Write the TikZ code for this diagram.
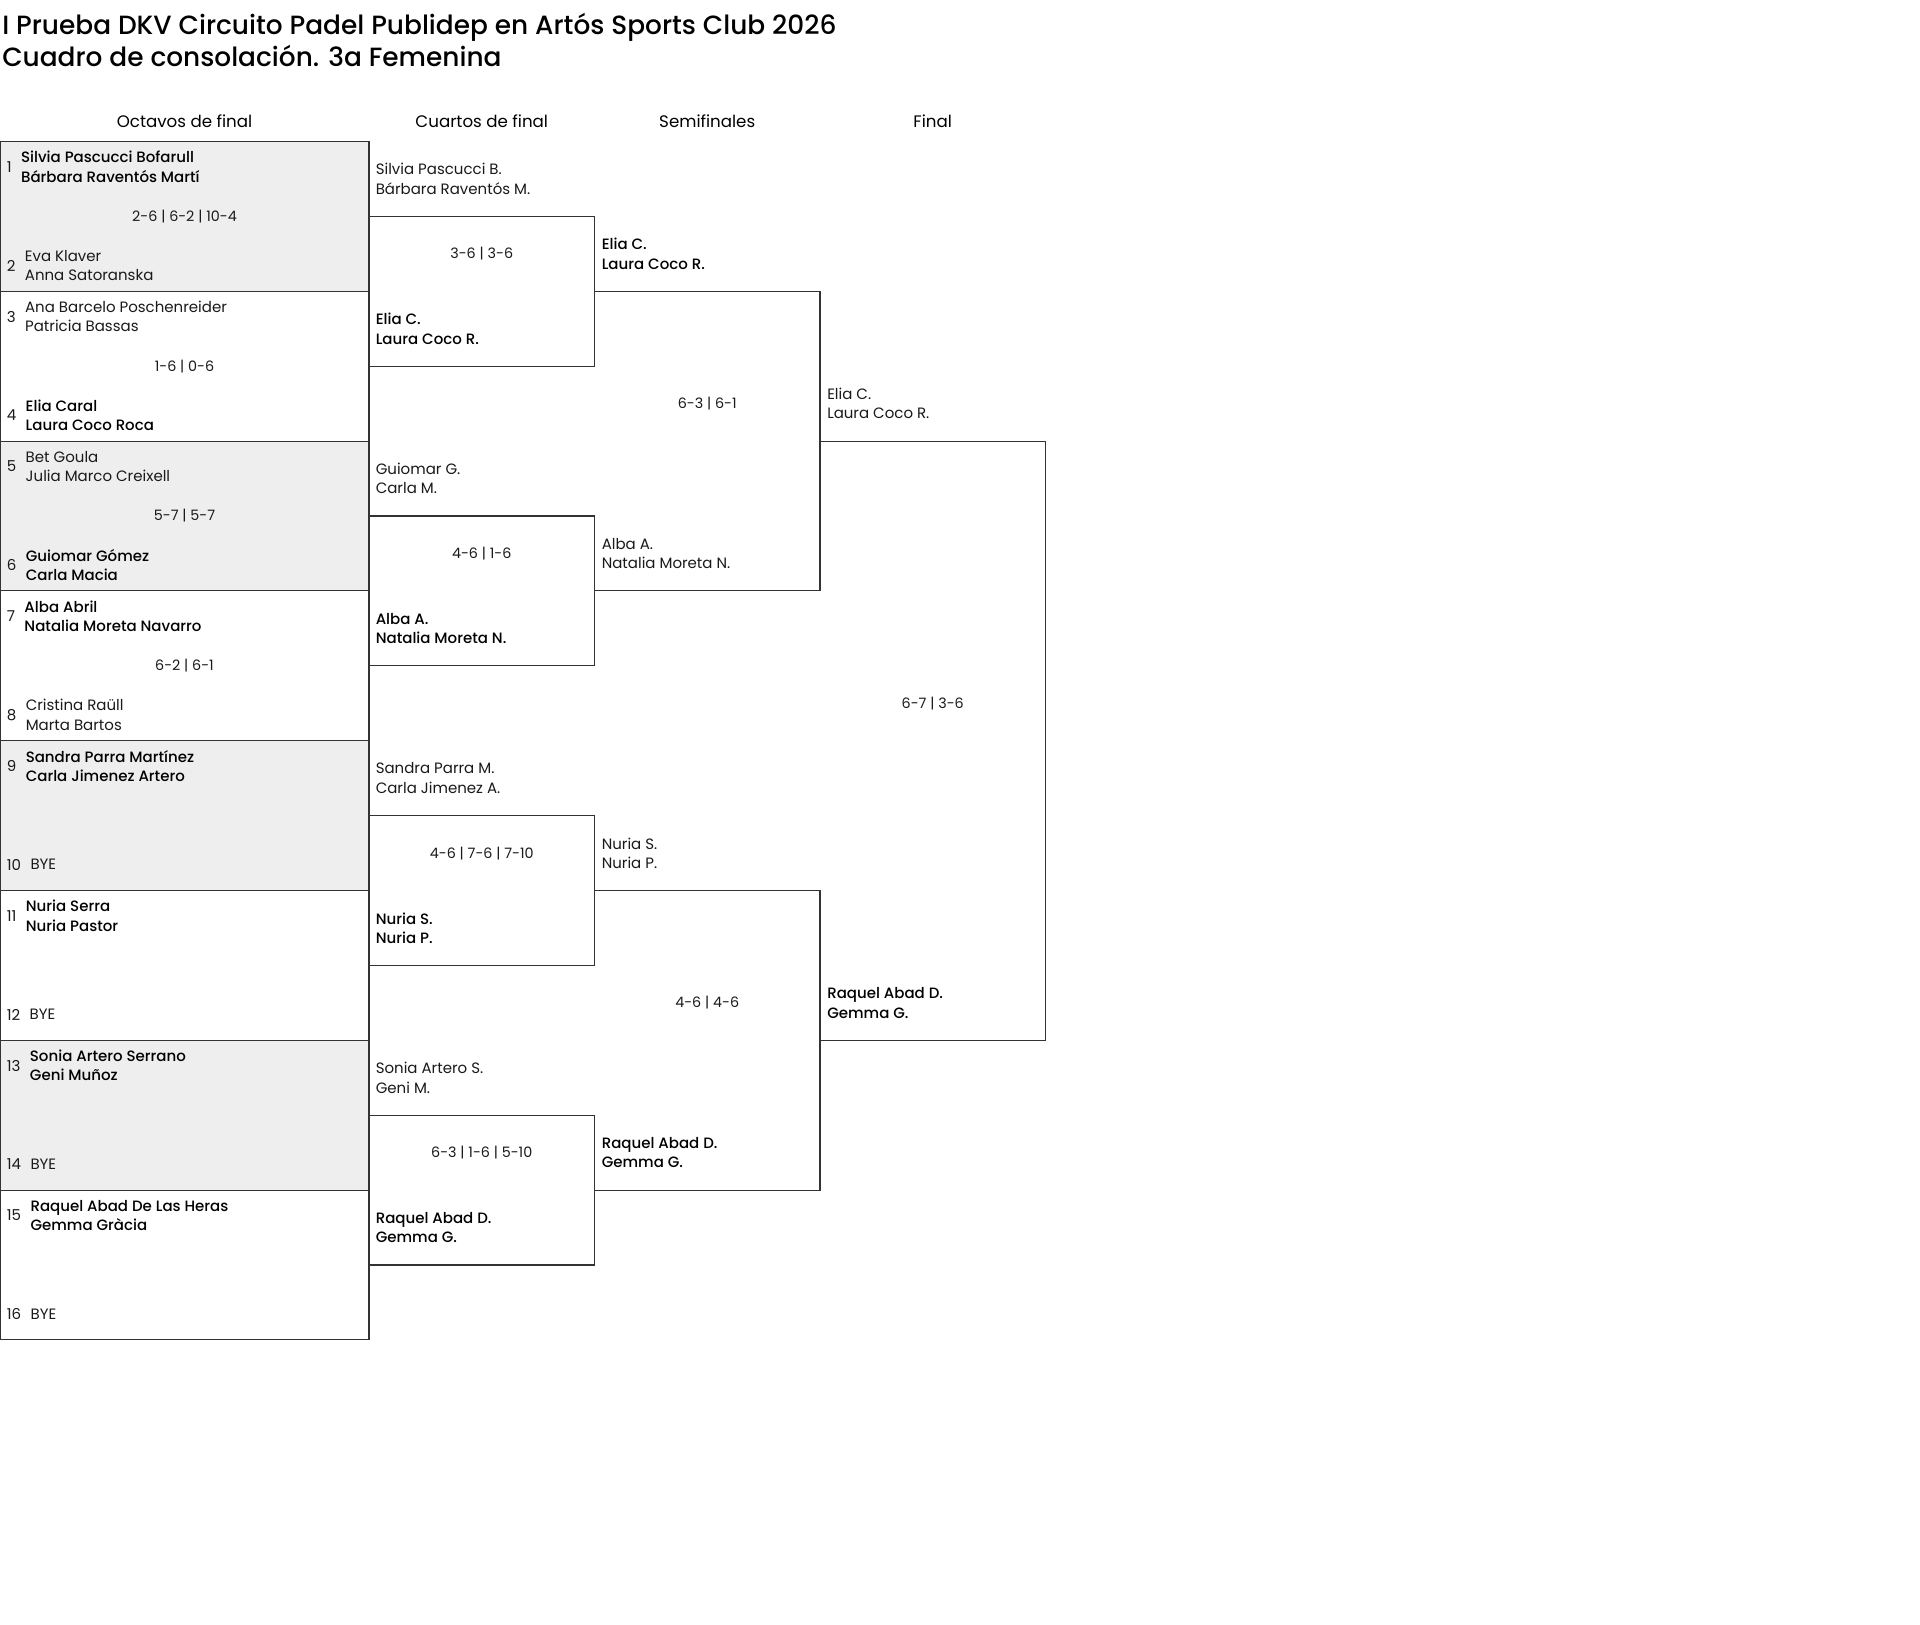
\documentclass[tikz,border=0pt]{standalone}
\usepackage{fontspec}
\IfFontExistsTF{Poppins Medium}
  {\setmainfont{Poppins}[BoldFont={Poppins Medium}]\newfontfamily\ttlfont{Poppins Medium}}
  {\setmainfont{Poppins}\newfontfamily\ttlfont{Poppins}}
\definecolor{txt}{HTML}{1A1A1A}
\definecolor{linec}{HTML}{333333}
\definecolor{shade}{HTML}{EEEEEE}
\def\bT{141.5}
\def\bH{149.8}
\tikzset{
  frame/.style={rectangle, inner sep=0pt, outer sep=0pt, draw=linec, line width=0.8pt},
  bline/.style={draw=linec, line width=0.8pt},
  nm/.style={anchor=west, align=left, inner sep=0pt, text=txt, font=\fontsize{11.25pt}{14.5pt}\selectfont},
  nmb/.style={nm, text=black, font=\fontsize{11.25pt}{14.5pt}\selectfont\bfseries},
  sc/.style={inner sep=0pt, text=txt, font=\fontsize{10.75pt}{14.5pt}\selectfont},
  num/.style={anchor=west, inner sep=0pt, text=txt, font=\fontsize{11.25pt}{14.5pt}\selectfont},
  hdr/.style={inner sep=0pt, text=black, font=\fontsize{12.5pt}{15pt}\selectfont},
  ttl/.style={anchor=base west, inner sep=0pt, text=black, font=\ttlfont\fontsize{19.8pt}{24pt}\selectfont},
}
\newcommand\roneMatch[9]{%
  \node[frame, fill=#2, anchor=north west, minimum width=276.75pt, minimum height=112.35pt] (m#1) at (0,{\bT+#1*\bH}) {};
  \node[num] (k#3) at (6.5,{\bT+#1*\bH+25.3}) {#3};
  \node[#4] (p#3) at ([xshift=6.75pt]k#3.east) {#5};
  \node[sc] (s#1) at (184.5,{\bT+#1*\bH+74.9}) {#6};
  \node[num] (k#7) at (6.5,{\bT+#1*\bH+124}) {#7};
  \node[#8] (p#7) at ([xshift=6.75pt]k#7.east) {#9};
}
\newcommand\openBox[5]{%
  \coordinate (#1tl) at (#2,#4);
  \coordinate (#1tr) at (#3,#4);
  \coordinate (#1br) at (#3,#5);
  \coordinate (#1bl) at (#2,#5);
  \draw[bline] (#1tl) -- (#1tr) -- (#1br) -- (#1bl);
}
\begin{document}
\begin{tikzpicture}[x=0.75pt,y=-0.75pt]
\fill[white] (0,0) rectangle (1920,1624);
\useasboundingbox (0,0) rectangle (1920,1624);
% titles
\node[ttl] (t1) at (2,34.3) {I Prueba DKV Circuito Padel Publidep en Artós Sports Club 2026};
\node[ttl] (t2) at (2,66.5) {Cuadro de consolación. 3a Femenina};
% headers
\node[hdr] (h1) at (184.5,121) {Octavos de final};
\node[hdr] (h2) at (481.75,121) {Cuartos de final};
\node[hdr] (h3) at (707.25,121) {Semifinales};
\node[hdr] (h4) at (932.75,121) {Final};
% first round
\roneMatch{0}{shade}{1}{nmb}{Silvia Pascucci Bofarull\\Bárbara Raventós Martí}{2-6 | 6-2 | 10-4}{2}{nm}{Eva Klaver\\Anna Satoranska}
\roneMatch{1}{white}{3}{nm}{Ana Barcelo Poschenreider\\Patricia Bassas}{1-6 | 0-6}{4}{nmb}{Elia Caral\\Laura Coco Roca}
\roneMatch{2}{shade}{5}{nm}{Bet Goula\\Julia Marco Creixell}{5-7 | 5-7}{6}{nmb}{Guiomar Gómez\\Carla Macia}
\roneMatch{3}{white}{7}{nmb}{Alba Abril\\Natalia Moreta Navarro}{6-2 | 6-1}{8}{nm}{Cristina Raüll\\Marta Bartos}
\roneMatch{4}{shade}{9}{nmb}{Sandra Parra Martínez\\Carla Jimenez Artero}{}{10}{nm}{BYE}
\roneMatch{5}{white}{11}{nmb}{Nuria Serra\\Nuria Pastor}{}{12}{nm}{BYE}
\roneMatch{6}{shade}{13}{nmb}{Sonia Artero Serrano\\Geni Muñoz}{}{14}{nm}{BYE}
\roneMatch{7}{white}{15}{nmb}{Raquel Abad De Las Heras\\Gemma Gràcia}{}{16}{nm}{BYE}
% quarter finals
\openBox{q1}{369}{594.5}{216.4}{366.2}
\node[nm] (q1a) at (375.5,178.95) {Silvia Pascucci B.\\Bárbara Raventós M.};
\node[sc] (q1s) at (481.75,253.95) {3-6 | 3-6};
\node[nmb] (q1b) at (375.5,328.75) {Elia C.\\Laura Coco R.};
\openBox{q2}{369}{594.5}{516.0}{665.8}
\node[nm] (q2a) at (375.5,478.55) {Guiomar G.\\Carla M.};
\node[sc] (q2s) at (481.75,553.55) {4-6 | 1-6};
\node[nmb] (q2b) at (375.5,628.35) {Alba A.\\Natalia Moreta N.};
\openBox{q3}{369}{594.5}{815.6}{965.4}
\node[nm] (q3a) at (375.5,778.15) {Sandra Parra M.\\Carla Jimenez A.};
\node[sc] (q3s) at (481.75,853.15) {4-6 | 7-6 | 7-10};
\node[nmb] (q3b) at (375.5,927.95) {Nuria S.\\Nuria P.};
\openBox{q4}{369}{594.5}{1115.2}{1265.0}
\node[nm] (q4a) at (375.5,1077.75) {Sonia Artero S.\\Geni M.};
\node[sc] (q4s) at (481.75,1152.75) {6-3 | 1-6 | 5-10};
\node[nmb] (q4b) at (375.5,1227.55) {Raquel Abad D.\\Gemma G.};
% semifinals
\openBox{sf1}{594.5}{820}{291.3}{590.9}
\node[nmb] (sf1a) at (601.5,253.85) {Elia C.\\Laura Coco R.};
\node[sc] (sf1s) at (707.25,403.65) {6-3 | 6-1};
\node[nm] (sf1b) at (601.5,553.45) {Alba A.\\Natalia Moreta N.};
\openBox{sf2}{594.5}{820}{890.5}{1190.1}
\node[nm] (sf2a) at (601.5,853.05) {Nuria S.\\Nuria P.};
\node[sc] (sf2s) at (707.25,1002.85) {4-6 | 4-6};
\node[nmb] (sf2b) at (601.5,1152.65) {Raquel Abad D.\\Gemma G.};
% final
\openBox{fi}{820}{1045.5}{441.1}{1040.3}
\node[nm] (fia) at (827,403.65) {Elia C.\\Laura Coco R.};
\node[sc] (fis) at (932.75,703.25) {6-7 | 3-6};
\node[nmb] (fib) at (827,1002.85) {Raquel Abad D.\\Gemma G.};
\end{tikzpicture}
\end{document}
